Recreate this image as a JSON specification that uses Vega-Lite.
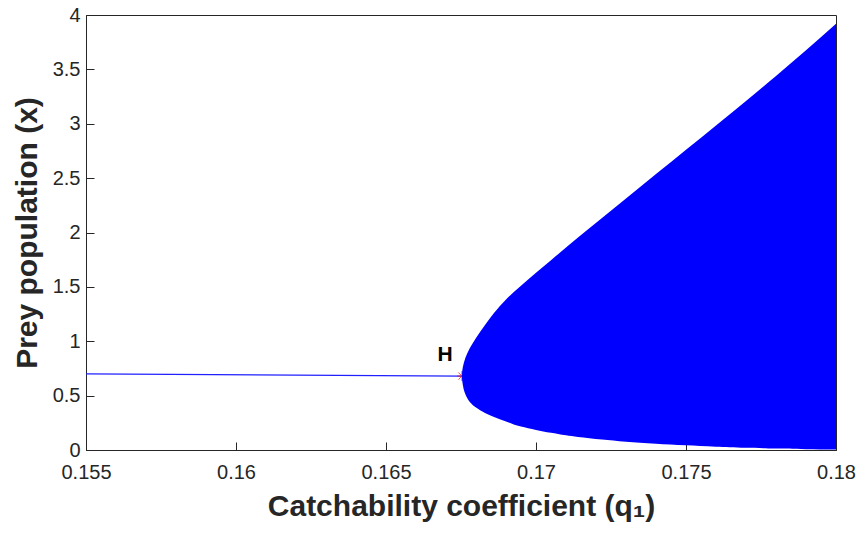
{
  "$schema": "https://vega.github.io/schema/vega-lite/v6.json",
  "width": 750,
  "height": 435,
  "autosize": {"type": "none"},
  "padding": {"left": 86, "top": 15, "right": 22, "bottom": 83},
  "background": "white",
  "config": {
    "view": {"stroke": "#262626", "strokeWidth": 1},
    "axis": {
      "grid": false,
      "domainColor": "#262626",
      "tickColor": "#262626",
      "tickSize": -8,
      "labelFont": "Liberation Sans",
      "labelFontSize": 20,
      "labelColor": "#262626",
      "titleFont": "Liberation Sans",
      "titleFontWeight": "bold",
      "titleFontSize": 30,
      "titleColor": "#262626",
      "labelOverlap": false,
      "labelFlush": false
    }
  },
  "datasets": {
    "cycle": [
      {"x": 0.005, "qleft": 0.18, "qright": 0.18},
      {"x": 0.008, "qleft": 0.179, "qright": 0.18},
      {"x": 0.013, "qleft": 0.178, "qright": 0.18},
      {"x": 0.02, "qleft": 0.177, "qright": 0.18},
      {"x": 0.03, "qleft": 0.176, "qright": 0.18},
      {"x": 0.043, "qleft": 0.175, "qright": 0.18},
      {"x": 0.058, "qleft": 0.174, "qright": 0.18},
      {"x": 0.077, "qleft": 0.173, "qright": 0.18},
      {"x": 0.097, "qleft": 0.1722, "qright": 0.18},
      {"x": 0.12, "qleft": 0.1714, "qright": 0.18},
      {"x": 0.135, "qleft": 0.171, "qright": 0.18},
      {"x": 0.158, "qleft": 0.1705, "qright": 0.18},
      {"x": 0.185, "qleft": 0.17, "qright": 0.18},
      {"x": 0.215, "qleft": 0.1695, "qright": 0.18},
      {"x": 0.262, "qleft": 0.169, "qright": 0.18},
      {"x": 0.303, "qleft": 0.1686, "qright": 0.18},
      {"x": 0.34, "qleft": 0.1683, "qright": 0.18},
      {"x": 0.39, "qleft": 0.168, "qright": 0.18},
      {"x": 0.44, "qleft": 0.1678, "qright": 0.18},
      {"x": 0.51, "qleft": 0.16765, "qright": 0.18},
      {"x": 0.6, "qleft": 0.16756, "qright": 0.18},
      {"x": 0.68, "qleft": 0.16753, "qright": 0.18},
      {"x": 0.76, "qleft": 0.16756, "qright": 0.18},
      {"x": 0.85, "qleft": 0.16765, "qright": 0.18},
      {"x": 0.94, "qleft": 0.1678, "qright": 0.18},
      {"x": 1.03, "qleft": 0.168, "qright": 0.18},
      {"x": 1.15, "qleft": 0.1683, "qright": 0.18},
      {"x": 1.26, "qleft": 0.1686, "qright": 0.18},
      {"x": 1.385, "qleft": 0.169, "qright": 0.18},
      {"x": 1.51, "qleft": 0.1695, "qright": 0.18},
      {"x": 1.63, "qleft": 0.17, "qright": 0.18},
      {"x": 1.745, "qleft": 0.1705, "qright": 0.18},
      {"x": 1.862, "qleft": 0.171, "qright": 0.18},
      {"x": 1.954, "qleft": 0.1714, "qright": 0.18},
      {"x": 2.134, "qleft": 0.1722, "qright": 0.18},
      {"x": 2.313, "qleft": 0.173, "qright": 0.18},
      {"x": 2.537, "qleft": 0.174, "qright": 0.18},
      {"x": 2.761, "qleft": 0.175, "qright": 0.18},
      {"x": 2.985, "qleft": 0.176, "qright": 0.18},
      {"x": 3.21, "qleft": 0.177, "qright": 0.18},
      {"x": 3.44, "qleft": 0.178, "qright": 0.18},
      {"x": 3.675, "qleft": 0.179, "qright": 0.18},
      {"x": 3.92, "qleft": 0.18, "qright": 0.18}
    ],
    "equilibrium": [
      {"q": 0.155, "x": 0.7},
      {"q": 0.16753, "x": 0.68}
    ],
    "hopf": [
      {"q": 0.16753, "x": 0.68}
    ],
    "hlabel": [
      {"q": 0.16697, "x": 0.87, "label": "H"}
    ]
  },
  "layer": [
    {
      "data": {"name": "equilibrium"},
      "mark": {"type": "line", "color": "#2020ff", "strokeWidth": 1.2},
      "encoding": {
        "x": {
          "field": "q", "type": "quantitative",
          "scale": {"domain": [0.155, 0.18], "nice": false, "zero": false},
          "axis": {
            "values": [0.155, 0.16, 0.165, 0.17, 0.175, 0.18],
            "format": "~g",
            "labelPadding": 20,
            "title": "Catchability coefficient (q₁)",
            "titlePadding": 9
          }
        },
        "y": {
          "field": "x", "type": "quantitative",
          "scale": {"domain": [0, 4], "nice": false},
          "axis": {
            "values": [0, 0.5, 1, 1.5, 2, 2.5, 3, 3.5, 4],
            "format": "~g",
            "labelPadding": 14,
            "title": "Prey population (x)",
            "titlePadding": 10
          }
        }
      }
    },
    {
      "data": {"name": "hopf"},
      "mark": {"type": "point", "shape": "M-1,-1L1,1M-1,1L1,-1M0,-1.4L0,1.4M-1.4,0L1.4,0", "stroke": "#ff0000", "strokeWidth": 1, "size": 50, "filled": false},
      "encoding": {
        "x": {"field": "q", "type": "quantitative"},
        "y": {"field": "x", "type": "quantitative"}
      }
    },
    {
      "data": {"name": "cycle"},
      "mark": {"type": "area", "orient": "horizontal", "color": "#0000ff", "opacity": 1, "interpolate": "monotone"},
      "encoding": {
        "y": {"field": "x", "type": "quantitative"},
        "x": {"field": "qleft", "type": "quantitative"},
        "x2": {"field": "qright"}
      }
    },
    {
      "data": {"name": "hlabel"},
      "mark": {"type": "text", "font": "Liberation Sans", "fontWeight": "bold", "fontSize": 21, "color": "#000000"},
      "encoding": {
        "x": {"field": "q", "type": "quantitative"},
        "y": {"field": "x", "type": "quantitative"},
        "text": {"field": "label"}
      }
    }
  ]
}
